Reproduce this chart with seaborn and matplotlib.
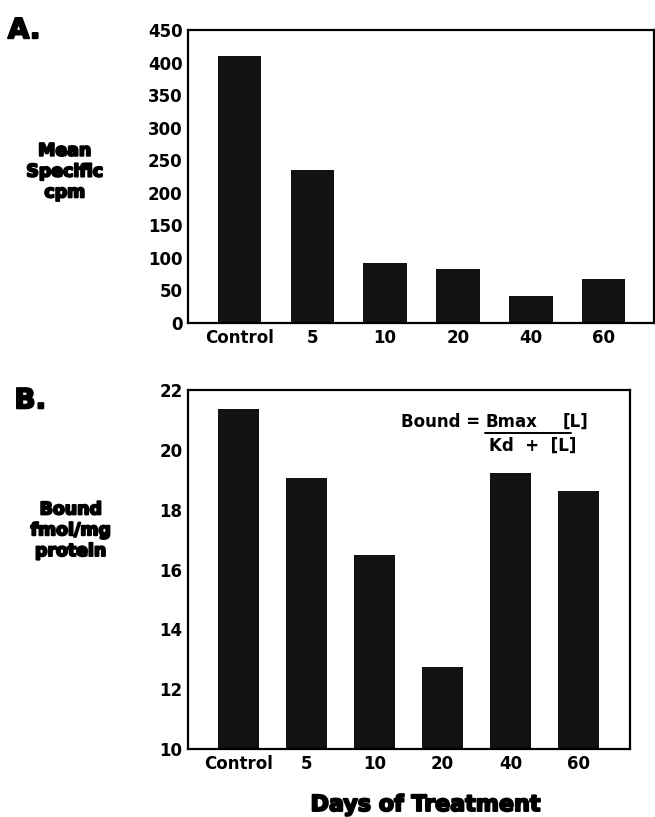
import matplotlib
matplotlib.use("Agg")
import matplotlib.pyplot as plt
import matplotlib.patheffects as pe
import seaborn as sns

sns.set_style("white")
plt.rcParams["font.family"] = ["DejaVu Sans"]
plt.rcParams["text.color"] = "black"
plt.rcParams["xtick.color"] = "black"
plt.rcParams["ytick.color"] = "black"

# Treatment groups (days)
categories = ["Control", "5", "10", "20", "40", "60"]

# Panel A: mean specific binding (cpm)
specific_cpm = [410, 235, 92, 83, 41, 68]
ticks_a = [0, 50, 100, 150, 200, 250, 300, 350, 400, 450]

# Panel B: bound receptor (fmol/mg protein)
bound_fmol = [21.35, 19.06, 16.5, 12.75, 19.22, 18.62]
ticks_b = [10, 12, 14, 16, 18, 20, 22]

BAR = "#121212"
heavy = [pe.withStroke(linewidth=1.4, foreground="black")]

fig = plt.figure(figsize=(6.55, 8.17), dpi=100)
ax_a = fig.add_axes([0.287, 0.6047, 0.711, 0.3586])
ax_b = fig.add_axes([0.287, 0.0832, 0.675, 0.4394])


def style_axes(ax, ticks, lo, hi, xlo, xhi):
    ax.set_ylim(lo, hi)
    ax.set_xlim(xlo, xhi)
    ax.set_yticks(ticks)
    ax.set_yticklabels([str(t) for t in ticks], fontsize=12, fontweight="bold")
    ax.tick_params(axis="y", direction="out", length=4, width=1.5, pad=0, color="black")
    ax.tick_params(axis="x", length=0, pad=4, labelsize=12)
    for lab in ax.get_xticklabels():
        lab.set_fontweight("bold")
    for s in ax.spines.values():
        s.set_visible(True)
        s.set_color("black")
        s.set_linewidth(1.6)
    ax.set_xlabel("")
    ax.set_ylabel("")


sns.barplot(x=categories, y=specific_cpm, ax=ax_a, color=BAR, width=0.6,
            saturation=1, edgecolor=BAR, linewidth=0)
style_axes(ax_a, ticks_a, 0, 450, -0.71, 5.69)

sns.barplot(x=categories, y=bound_fmol, ax=ax_b, color=BAR, width=0.6,
            saturation=1, edgecolor=BAR, linewidth=0)
style_axes(ax_b, ticks_b, 10, 22, -0.74, 5.76)

# Panel letters
fig.text(0.012, 0.963, "A.", fontsize=20, fontweight="bold", va="center", ha="left",
         path_effects=heavy)
fig.text(0.022, 0.510, "B.", fontsize=20, fontweight="bold", va="center", ha="left",
         path_effects=heavy)

# Y-axis titles
fig.text(0.099, 0.790, "Mean\nSpecific\ncpm", fontsize=12.5, fontweight="bold",
         ha="center", va="center", linespacing=1.2, path_effects=heavy)
fig.text(0.108, 0.351, "Bound\nfmol/mg\nprotein", fontsize=12.5, fontweight="bold",
         ha="center", va="center", linespacing=1.2, path_effects=heavy)

# X-axis title
fig.text(0.650, 0.0147, "Days of Treatment", fontsize=16, fontweight="bold",
         ha="center", va="center", path_effects=heavy)

# Binding equation
eq = dict(transform=ax_b.transAxes, fontsize=12, fontweight="bold", va="center")
ax_b.text(0.660, 0.912, "Bound =", ha="right", **eq)
ax_b.text(0.672, 0.912, "Bmax", ha="left", **eq)
ax_b.text(0.848, 0.912, "[L]", ha="left", **eq)
ax_b.plot([0.672, 0.866], [0.880, 0.880], transform=ax_b.transAxes,
          color="black", linewidth=1.4)
ax_b.text(0.780, 0.846, "Kd  +  [L]", ha="center", **eq)

fig.savefig("out.png", dpi=100, facecolor="white")
